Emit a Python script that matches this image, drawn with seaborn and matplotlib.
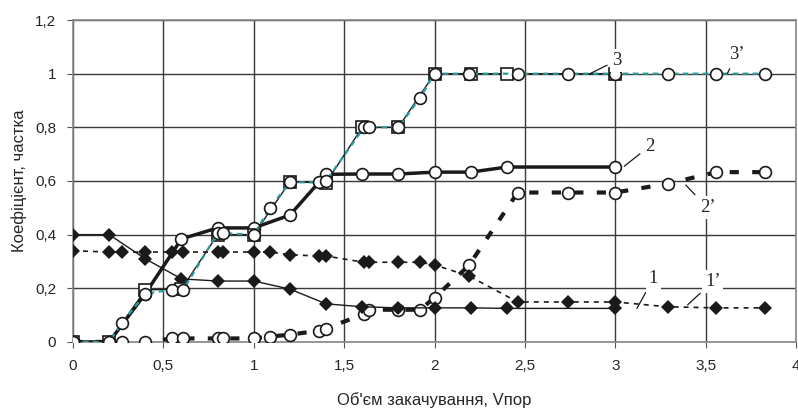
import numpy as np
import pandas as pd
import seaborn as sns
import matplotlib.pyplot as plt

# Data
x_base = [0, 0.2, 0.4, 0.6, 0.8, 1.0, 1.2, 1.4, 1.6, 1.8, 2.0, 2.2, 2.4, 3.0]
y_1 = [0.4, 0.4, 0.31, 0.235, 0.227, 0.227, 0.197, 0.142, 0.131, 0.127, 0.127, 0.127, 0.125, 0.125]
y_2 = [0, 0, 0.18, 0.384, 0.425, 0.425, 0.473, 0.625, 0.626, 0.626, 0.633, 0.633, 0.652, 0.652]
y_3 = [0, 0, 0.194, 0.197, 0.40, 0.40, 0.597, 0.593, 0.80, 0.80, 1.0, 1.0, 1.0, 1.0]

x_prime = [0, 0.2, 0.27, 0.4, 0.55, 0.61, 0.8, 0.83, 1.0, 1.09, 1.2, 1.36, 1.4,
           1.61, 1.64, 1.8, 1.92, 2.0, 2.19, 2.46, 2.74, 3.0, 3.29, 3.56, 3.83]
y_1p = [0.34, 0.335, 0.335, 0.335, 0.335, 0.335, 0.335, 0.335, 0.335, 0.335, 0.325, 0.32, 0.32,
        0.297, 0.297, 0.297, 0.297, 0.287, 0.246, 0.149, 0.149, 0.149, 0.131, 0.127, 0.127]
y_2p = [0, 0, 0, 0, 0.013, 0.013, 0.013, 0.013, 0.013, 0.02, 0.027, 0.042, 0.05,
        0.104, 0.12, 0.12, 0.12, 0.165, 0.285, 0.557, 0.557, 0.557, 0.59, 0.633, 0.633]
y_3p = [0, 0, 0.07, 0.18, 0.195, 0.195, 0.405, 0.405, 0.40, 0.5, 0.595, 0.595, 0.6,
        0.8, 0.8, 0.8, 0.91, 1.0, 1.0, 1.0, 1.0, 1.0, 1.0, 1.0, 1.0]

x_ticks = [0, 0.5, 1, 1.5, 2, 2.5, 3, 3.5, 4]
y_ticks = [0, 0.2, 0.4, 0.6, 0.8, 1.0, 1.2]

# labels: text, text position, end of leader line
labels = [
    ("3", (3.01, 1.05), (2.86, 1.0)),
    ("3\u2019", (3.67, 1.07), (3.62, 1.0)),
    ("2", (3.19, 0.73), (3.05, 0.655)),
    ("2\u2019", (3.51, 0.50), (3.39, 0.585)),
    ("1", (3.21, 0.235), (3.12, 0.125)),
    ("1\u2019", (3.54, 0.225), (3.40, 0.138)),
]

sns.set_style("white")
plt.rcParams['font.family'] = ['Liberation Sans Narrow', 'Liberation Sans', 'DejaVu Sans']

fig, ax = plt.subplots(figsize=(7.98, 4.09), dpi=100)
fig.subplots_adjust(left=0.0915, right=0.9975, top=0.951, bottom=0.164)

circ = dict(marker='o', markersize=8.5, markerfacecolor='white', markeredgecolor='#1a1a1a',
            markeredgewidth=1.2)

# 2' : bold dashed
sns.lineplot(x=x_prime, y=y_2p, ax=ax, sort=False, estimator=None, color='#1a1a1a',
             lw=3, dashes=False, zorder=3, **circ)
ax.lines[-1].set_dashes([2.2, 3.2])
# 1' : thin dashed with diamonds
sns.lineplot(x=x_prime, y=y_1p, ax=ax, sort=False, estimator=None, color='#1a1a1a',
             lw=1.2, marker='D', markersize=7.2, markeredgewidth=0, zorder=4)
ax.lines[-1].set_dashes([3, 3])
# 1 : thin solid with diamonds
sns.lineplot(x=x_base, y=y_1, ax=ax, sort=False, estimator=None, color='#1a1a1a',
             lw=1.0, marker='D', markersize=7.2, markeredgewidth=0, zorder=4)
# 2 : thick solid with circles
sns.lineplot(x=x_base, y=y_2, ax=ax, sort=False, estimator=None, color='#1a1a1a',
             lw=2.5, zorder=5, **circ)
# 3 : thin solid with squares
sns.lineplot(x=x_base, y=y_3, ax=ax, sort=False, estimator=None, color='#1a1a1a',
             lw=1.0, marker='s', markersize=8, markerfacecolor='white',
             markeredgecolor='#1a1a1a', markeredgewidth=1.2, zorder=6)
# 3' : teal dashed with circles
sns.lineplot(x=x_prime, y=y_3p, ax=ax, sort=False, estimator=None, color='#2a9a9a',
             lw=1.6, zorder=7, **circ)
ax.lines[-1].set_dashes([2.5, 2])

ax.set_xlim(0, 4)
ax.set_ylim(0, 1.2)
ax.set_xticks(x_ticks)
ax.set_yticks(y_ticks)
ax.set_xticklabels([f"{t:g}".replace('.', ',') for t in x_ticks])
ax.set_yticklabels([f"{t:g}".replace('.', ',') for t in y_ticks])
ax.grid(True, color='#3a3a3a', lw=1.0)
ax.set_axisbelow(True)
for s in ax.spines.values():
    s.set_color('#888888')
    s.set_linewidth(1.2)
ax.tick_params(axis='both', labelsize=11, length=4, color='#555555', direction='out',
               bottom=True, left=True, pad=8)

ax.set_xlabel("Об'єм закачування, Vпор", fontsize=12, labelpad=14)
ax.set_ylabel("Коефіцієнт, частка", fontsize=12, labelpad=6)

for txt, pos, end in labels:
    ax.annotate(txt, xy=end, xytext=pos, fontsize=13.5, family='Liberation Serif',
                ha='center', va='center', zorder=10,
                bbox=dict(boxstyle='square,pad=0.15', fc='white', ec='none'),
                arrowprops=dict(arrowstyle='-', color='#1a1a1a', lw=0.9,
                                shrinkA=2, shrinkB=0))

fig.savefig("out.png", dpi=100)
